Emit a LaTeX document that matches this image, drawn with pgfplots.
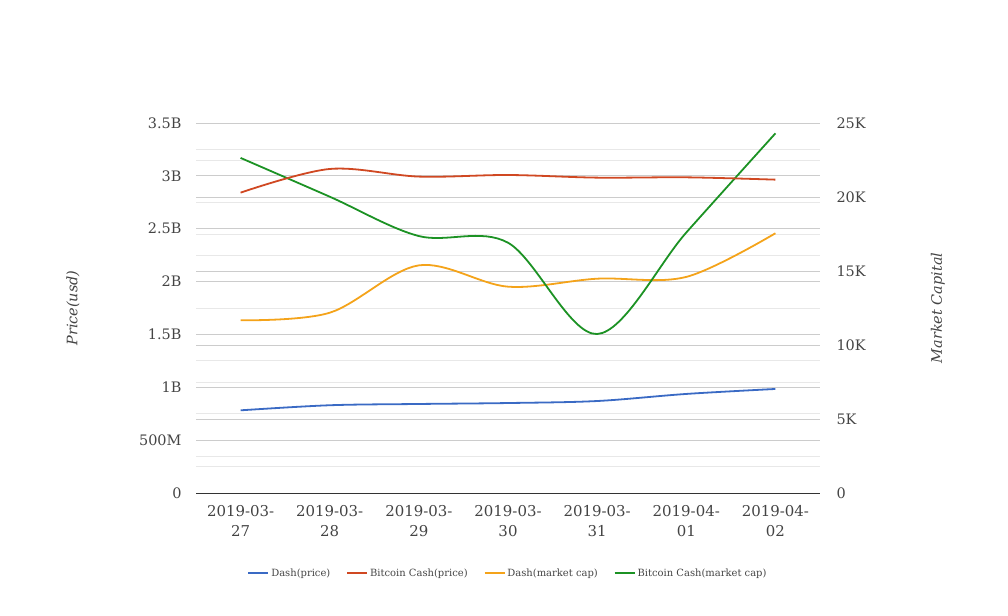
\documentclass[border=0pt]{standalone}
\usepackage{pgfplots}
\pgfplotsset{compat=1.18}
\usepackage{fontspec}
\setmainfont{DejaVu Serif}
\definecolor{cblue}{RGB}{58,106,196}
\definecolor{cred}{RGB}{208,72,34}
\definecolor{corange}{RGB}{244,163,26}
\definecolor{cgreen}{RGB}{28,146,36}
\definecolor{gmajor}{RGB}{204,204,204}
\definecolor{gminor}{RGB}{232,232,232}
\definecolor{ctext}{RGB}{68,68,68}
\begin{document}
\begin{tikzpicture}[x=1bp,y=1bp]
\pgfplotsset{
  common/.style={
    set layers,
    at={(196bp,123bp)}, anchor=south west, scale only axis,
    width=624bp, height=370bp,
    xmin=-0.5, xmax=6.5,
    ymajorgrids, yminorgrids,
    major grid style={gmajor, line width=0.8bp},
    minor grid style={gminor, line width=0.8bp},
    tick style={draw=none},
    y axis line style={draw=none},
    every tick label/.append style={font=\fontsize{14.5}{20}\selectfont, text=ctext},
    ylabel style={font=\fontsize{14.5}{16}\selectfont\itshape, text=ctext},
    every axis plot/.append style={line width=1.8bp, smooth, tension=0.55, no markers},
  }
}
% right axis: market capital
\begin{axis}[common,
  xtick=\empty,
  axis x line*=bottom,
  x axis line style={draw=none},
  axis y line*=right,
  ymin=0, ymax=25,
  ytick={0,5,10,15,20,25},
  yticklabels={0,5K,10K,15K,20K,25K},
  minor ytick={2.5,7.5,12.5,17.5,22.5},
  yticklabel style={anchor=west, xshift=13bp},
  ylabel={Market Capital},
  ylabel style={at={(axis description cs:1.189,0.5)}, anchor=center},
]
\addplot[corange] coordinates {(0,11.67) (1,12.18) (2,15.38) (3,13.94) (4,14.48) (5,14.6) (6,17.55)};
\addplot[cgreen] coordinates {(0,22.64) (1,20.02) (2,17.36) (3,16.91) (4,10.74) (5,17.6) (6,24.3)};
\end{axis}
% left axis: price
\begin{axis}[common,
  axis x line*=bottom,
  axis y line*=left,
  x axis line style={draw=black!80, line width=0.8bp, -},
  ymin=0, ymax=3.5,
  xtick={0,1,2,3,4,5,6},
  xticklabels={{2019-03-\\27},{2019-03-\\28},{2019-03-\\29},{2019-03-\\30},{2019-03-\\31},{2019-04-\\01},{2019-04-\\02}},
  xticklabel style={align=center, yshift=-9bp, font=\fontsize{15}{20}\selectfont},
  ytick={0,0.5,1,1.5,2,2.5,3,3.5},
  yticklabels={0,500M,1B,1.5B,2B,2.5B,3B,3.5B},
  minor ytick={0.25,0.75,1.25,1.75,2.25,2.75,3.25},
  yticklabel style={anchor=east, xshift=-11bp},
  ylabel={Price(usd)},
  ylabel style={at={(axis description cs:-0.197,0.5)}, anchor=center},
  legend columns=4,
  legend style={at={(rel axis cs:0.5,0)}, anchor=center, yshift=-80bp, draw=none, fill=none,
    font=\fontsize{10}{12}\selectfont, text=ctext,
    /tikz/every even column/.append style={column sep=14bp}},
  legend image code/.code={\draw[#1, line width=1.8bp] (0bp,0bp) -- (20bp,0bp);},
]
\addlegendimage{cblue}\addlegendentry{Dash(price)}
\addlegendimage{cred}\addlegendentry{Bitcoin Cash(price)}
\addlegendimage{corange}\addlegendentry{Dash(market cap)}
\addlegendimage{cgreen}\addlegendentry{Bitcoin Cash(market cap)}
\addplot[cblue, forget plot] coordinates {(0,0.782) (1,0.830) (2,0.842) (3,0.851) (4,0.870) (5,0.937) (6,0.984)};
\addplot[cred, forget plot] coordinates {(0,2.841) (1,3.065) (2,2.993) (3,3.008) (4,2.983) (5,2.986) (6,2.964)};
\end{axis}
\path (0,0) rectangle (1008,616);
\end{tikzpicture}
\end{document}
